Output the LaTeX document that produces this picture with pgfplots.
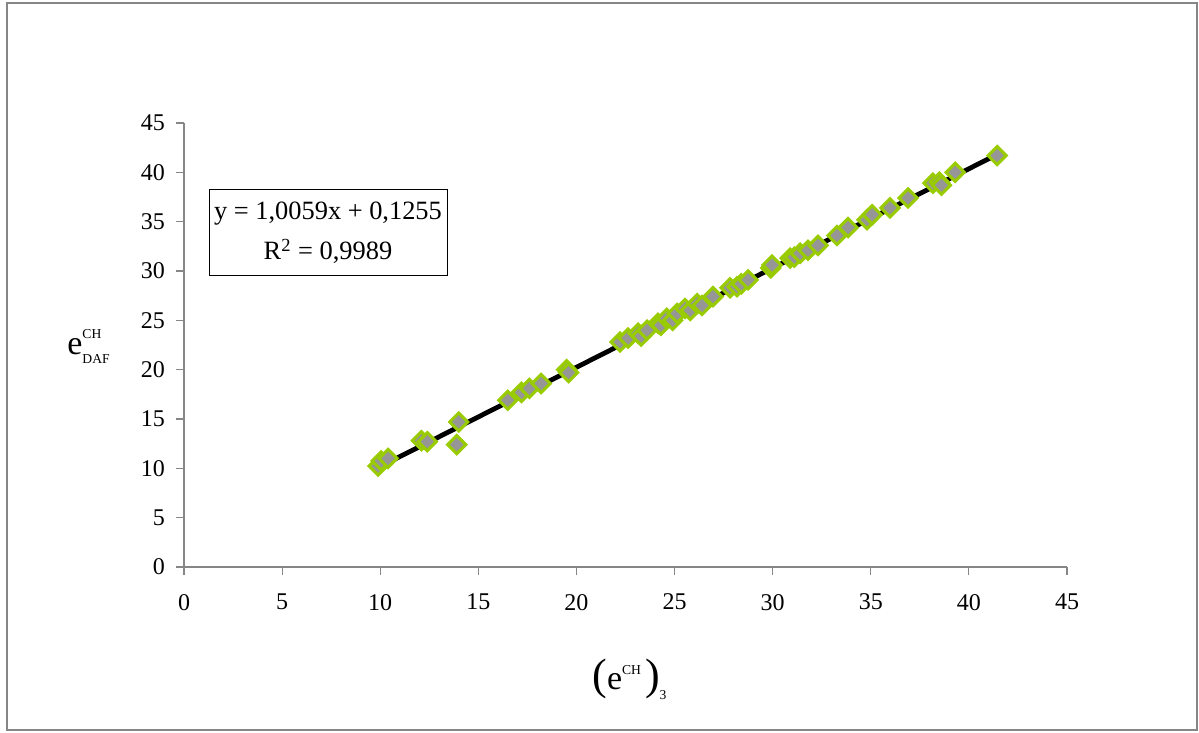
\documentclass[border=0pt]{standalone}
\usepackage{pgfplots}
\pgfplotsset{compat=1.18}
\usepackage{fontspec}
\setmainfont{Liberation Serif}
\definecolor{mkgreen}{HTML}{99CC00}
\definecolor{mkgray}{HTML}{969696}
\definecolor{axgray}{HTML}{868686}
\pgfplotstableread{
x y
9.89 10.23
10.05 10.75
10.40 11.00
12.10 12.80
12.40 12.70
13.90 12.40
14.00 14.70
16.50 16.90
17.20 17.70
17.60 18.10
18.20 18.60
19.50 20.00
19.60 19.70
22.22 22.80
22.63 23.20
23.14 23.70
23.30 23.40
23.60 24.00
24.16 24.70
24.30 24.50
24.60 25.20
24.90 25.00
25.13 25.70
25.53 26.20
25.80 26.00
26.15 26.70
26.40 26.50
26.96 27.40
27.83 28.30
28.18 28.40
28.40 28.70
28.75 29.10
29.90 30.30
29.97 30.60
30.89 31.30
31.10 31.40
31.40 31.80
31.80 32.10
32.31 32.60
33.28 33.60
33.84 34.40
34.81 35.20
35.07 35.70
35.98 36.40
36.90 37.40
38.17 38.90
38.50 39.00
38.60 38.70
39.30 40.00
41.44 41.70
}\datatable
\begin{document}
\begin{tikzpicture}[x=1pt,y=1pt]
\useasboundingbox (0,0) rectangle (599.5,366.5);
\draw[axgray, line width=1pt] (3.3,1.7) rectangle (598.3,364.8);
\begin{axis}[
  at={(92pt,83pt)}, anchor=south west,
  scale only axis, width=441.5pt, height=222pt,
  xmin=0, xmax=45, ymin=0, ymax=45,
  xtick={0,5,...,45}, ytick={0,5,...,45},
  axis x line=bottom, axis y line=left,
  axis line style={-, draw=axgray, line width=0.6pt},
  tick style={draw=axgray, line width=0.6pt},
  tick align=outside, major tick length=4pt,
  /pgf/number format/assume math mode=true,
  ticklabel style={font=\fontsize{12}{14}\selectfont},
  xticklabel style={yshift=-6pt},
  yticklabel style={xshift=-2pt},
  clip=false,
]
\addplot[only marks, mark=square*, mark size=3.2pt,
  mark options={rotate=45, fill=mkgray, draw=mkgreen, line width=1.5pt}]
  table[x=x,y=y]{\datatable};
\addplot[black, line width=2.4pt] coordinates {(9.89,10.07) (41.44,41.81)};
\end{axis}
\node[draw=black, line width=0.5pt, minimum width=119pt, minimum height=43pt,
  align=center, font=\fontsize{13.2}{20}\selectfont, inner sep=0pt]
  at (164,250) {y = 1,0059x + 0,1255\\R\textsuperscript{2} = 0,9989};
\node[anchor=base west, inner sep=0pt] at (33.5,189)
  {{\fontsize{17}{18}\selectfont e}\rlap{\raisebox{8pt}{\fontsize{6.8}{7}\selectfont CH}}\raisebox{-4.2pt}{\fontsize{6.8}{7}\selectfont DAF}};
\node[anchor=base west, inner sep=0pt] at (296,21.5)
  {{\fontsize{22}{24}\selectfont (}{\fontsize{17}{18}\selectfont e}\raisebox{7.5pt}{\fontsize{6.8}{7}\selectfont CH}\hspace{2pt}{\fontsize{22}{24}\selectfont )}\raisebox{-5pt}{\fontsize{6.8}{7}\selectfont 3}};
\end{tikzpicture}
\end{document}
